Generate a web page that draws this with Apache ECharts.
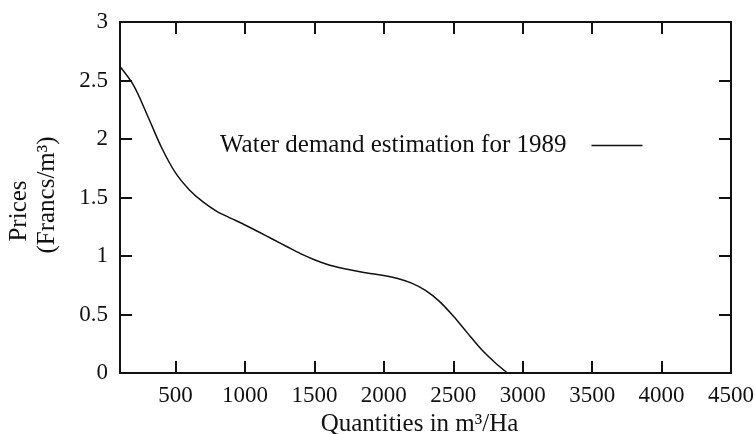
<!DOCTYPE html>
<html>
<head>
<meta charset="utf-8">
<script src="https://cdn.jsdelivr.net/npm/echarts@6/dist/echarts.min.js"></script>
<style>
  html, body { margin: 0; padding: 0; background: #fff; }
  #chart { width: 755px; height: 434px; }
</style>
</head>
<body>
<div id="chart"></div>
<script>
// Estimated water demand curve (price against quantity), 1989
const quantities = [100, 200, 300, 400, 500, 600, 700, 800, 900, 1000, 1100, 1200, 1300, 1400, 1500,
                    1600, 1700, 1800, 1900, 2000, 2100, 2200, 2300, 2400, 2500, 2600, 2700, 2800, 2890];
const prices = [2.62, 2.455, 2.195, 1.925, 1.71, 1.565, 1.46, 1.38, 1.322, 1.265, 1.205, 1.143, 1.081, 1.02, 0.968,
                0.925, 0.895, 0.871, 0.851, 0.834, 0.808, 0.768, 0.706, 0.612, 0.487, 0.345, 0.205, 0.09, 0];

const xTickLabels = [500, 1000, 1500, 2000, 2500, 3000, 3500, 4000, 4500];
const xInnerTicks = [500, 1000, 1500, 2000, 2500, 3000, 3500, 4000];
const yInnerTicks = [0.5, 1, 1.5, 2, 2.5];

const seriesName = 'Water demand estimation for 1989';
const FONT = 'Liberation Serif';
const INK = '#111';

const chart = echarts.init(document.getElementById('chart'), null, { renderer: 'canvas' });

const frameLine = { show: true, onZero: false, lineStyle: { color: INK, width: 2 } };
const innerTick = (vals) => ({
  show: true, inside: true, length: 12, customValues: vals,
  lineStyle: { color: INK, width: 2 }
});

chart.setOption({
  animation: false,
  backgroundColor: '#fff',
  grid: { left: 120, right: 24, top: 22, bottom: 61, containLabel: false, outerBoundsMode: 'none' },
  legend: {
    data: [{ name: seriesName, icon: 'rect' }],
    left: 215, top: 128,
    align: 'right',
    itemWidth: 51, itemHeight: 1.5,
    itemStyle: { color: INK },
    textStyle: { fontFamily: FONT, fontSize: 25, color: INK, padding: [0, 20, 0, 0] },
    selectedMode: false
  },
  xAxis: [
    {
      type: 'value', position: 'bottom', min: 100, max: 4500,
      axisLine: frameLine,
      axisTick: innerTick(xTickLabels),
      axisLabel: {
        customValues: xTickLabels, margin: 11,
        formatter: (v) => String(v),
        fontFamily: FONT, fontSize: 23, color: INK
      },
      splitLine: { show: false },
      name: 'Quantities in m³/Ha',
      nameLocation: 'middle', nameGap: 35,
      nameTextStyle: { fontFamily: FONT, fontSize: 25, color: INK, padding: [0, 12, 0, 0] }
    },
    {
      type: 'value', position: 'top', min: 100, max: 4500,
      axisLine: frameLine,
      axisTick: innerTick(xInnerTicks),
      axisLabel: { show: false },
      splitLine: { show: false }
    }
  ],
  yAxis: [
    {
      type: 'value', position: 'left', min: 0, max: 3, interval: 0.5,
      axisLine: frameLine,
      axisTick: innerTick(yInnerTicks),
      axisLabel: { margin: 12, fontFamily: FONT, fontSize: 23, color: INK },
      splitLine: { show: false }
    },
    {
      type: 'value', position: 'right', min: 0, max: 3, interval: 0.5,
      axisLine: frameLine,
      axisTick: innerTick(yInnerTicks),
      axisLabel: { show: false },
      splitLine: { show: false }
    }
  ],
  graphic: [
    {
      type: 'text', x: 19, y: 211, rotation: Math.PI / 2,
      style: { text: 'Prices', font: '25px "Liberation Serif"', fill: INK, align: 'center', verticalAlign: 'middle' }
    },
    {
      type: 'text', x: 47, y: 195, rotation: Math.PI / 2,
      style: { text: '(Francs/m³)', font: '25px "Liberation Serif"', fill: INK, align: 'center', verticalAlign: 'middle' }
    }
  ],
  series: [
    {
      name: seriesName,
      type: 'line',
      xAxisIndex: 0, yAxisIndex: 0,
      data: quantities.map((q, i) => [q, prices[i]]),
      symbol: 'none',
      smooth: 0.3,
      lineStyle: { color: INK, width: 1.5 },
      itemStyle: { color: INK }
    }
  ]
});
</script>
</body>
</html>
